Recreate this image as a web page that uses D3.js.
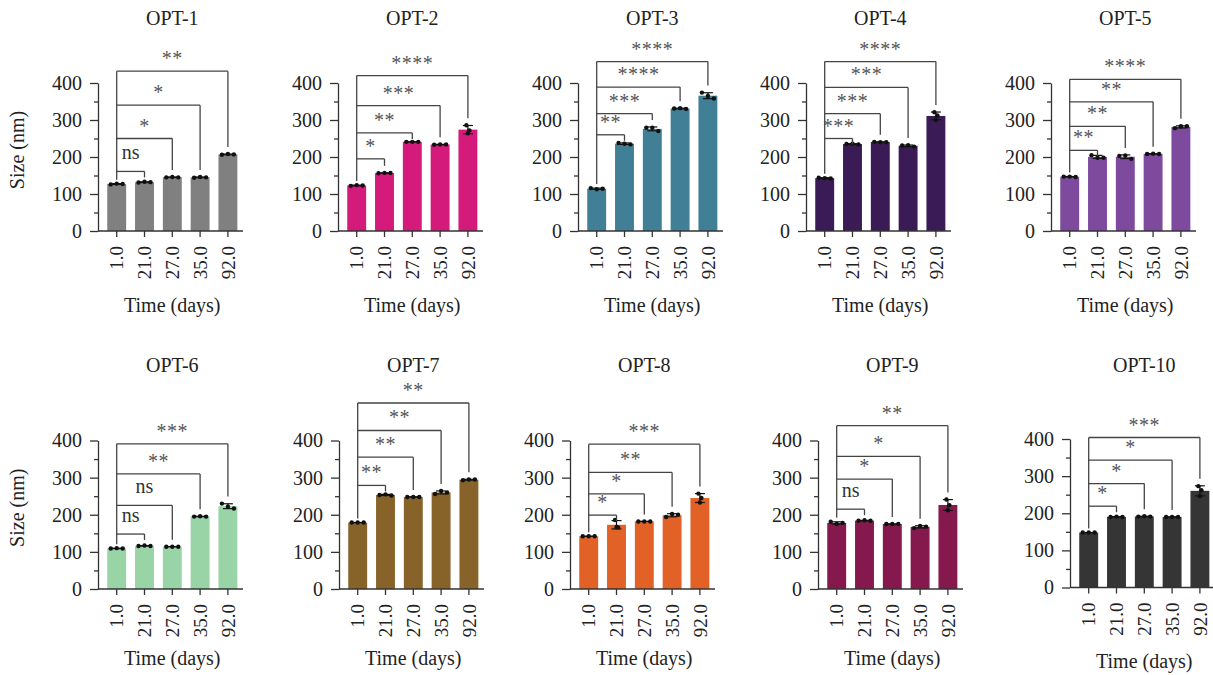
<!DOCTYPE html>
<html><head><meta charset="utf-8">
<script src="https://cdn.jsdelivr.net/npm/d3@7"></script>
<style>body{margin:0;background:#fff} svg{display:block}</style>
</head><body>
<svg id="chart" width="1213" height="675"></svg>
<script>
// ---------- data ----------
const categories = ["1.0","21.0","27.0","35.0","92.0"];
const titles = ["OPT-1","OPT-2","OPT-3","OPT-4","OPT-5","OPT-6","OPT-7","OPT-8","OPT-9","OPT-10"];
const colors = ["#808080","#d41a7b","#417f96","#3a1b56","#7d4a9e","#98d4a6","#876329","#e26126","#85184c","#353535"];
const yTicks = [0,100,200,300,400];
const yMinorTicks = [50,150,250,350];
const yAxisTitle = "Size (nm)";
const xAxisTitle = "Time (days)";

// replicate values (3 per time point)
const opt1  = [[126,128,127],[131,133,132],[145,146,145],[144,146,145],[206,208,207]];
const opt2  = [[122,124,123],[156,157,157],[241,241,241],[233,234,234],[286,272,264]];
const opt3  = [[116,113,114],[238,236,234],[279,279,270],[331,332,330],[374,365,358]];
const opt4  = [[144,143,142],[235,236,234],[241,240,240],[231,232,228],[321,312,300]];
const opt5  = [[147,147,146],[205,198,198],[203,204,195],[208,209,208],[278,283,283]];
const opt6  = [[109,110,109],[116,117,116],[114,114,114],[195,196,195],[230,222,217]];
const opt7  = [[179,179,179],[253,255,252],[248,248,248],[256,264,260],[293,295,295]];
const opt8  = [[142,142,142],[186,166,167],[182,182,182],[194,202,200],[257,245,233]];
const opt9  = [[181,175,178],[184,185,184],[175,175,175],[164,170,168],[241,226,212]];
const opt10 = [[148,148,148],[190,191,190],[191,192,191],[190,190,190],[273,262,246]];
const replicates = [opt1,opt2,opt3,opt4,opt5,opt6,opt7,opt8,opt9,opt10];

// significance brackets (vs 1.0 day), level in nm
const bracketLevels = [
  [161,250,340,432],[195,265,339,420],[260,317,389,458],[250,317,388,458],[218,283,349,410],
  [148,225,310,391],[279,355,427,501],[199,256,314,390],[215,296,357,440],[219,280,343,404]
];
const bracketLabels = [
  ["ns","*","*","**"],["*","**","***","****"],["**","***","****","****"],["***","***","***","****"],["**","**","**","****"],
  ["ns","ns","**","***"],["**","**","**","**"],["*","*","**","***"],["ns","*","*","**"],["*","*","*","***"]
];

// ---------- layout ----------
const axisX      = [98,338,578,806,1051, 98,339,570,818,1070];
const axisBottom = [231,231,231,231,231, 589,589,589,589,587.5];
const axisTop    = [83,83,83,83,83, 440.5,440.5,440.5,440.5,439];
const titleY     = [25,25,25,25,25, 372,372,372,372,372];
const xTitleY    = [312,312,312,312,312, 665,665,665,665,668];
const FONT = "'Liberation Serif','Times New Roman',serif";

const svg = d3.select("#chart");

replicates.forEach((pts, i) => {
  const g = svg.append("g");
  const y = d3.scaleLinear().domain([0,400]).range([axisBottom[i], axisTop[i]]);
  const x = d3.scaleBand().domain(categories)
      .range([axisX[i]+4.8, axisX[i]+143.8]).paddingInner(0.32).paddingOuter(0.16);
  const bw = x.bandwidth();
  const cx = c => x(c) + bw/2;

  const stats = pts.map((p, j) => {
    const m = d3.mean(p), sd = d3.deviation(p);
    return {cat: categories[j], mean: m, sd: sd, pts: p, top: Math.max(d3.max(p), m + sd)};
  });

  // bars
  g.selectAll("rect.bar").data(stats).join("rect")
    .attr("x", d => x(d.cat)).attr("width", bw)
    .attr("y", d => y(d.mean)).attr("height", d => y(0) - y(d.mean))
    .attr("fill", colors[i]);

  // error bars
  stats.forEach(d => {
    const eb = g.append("g").attr("stroke","#111").attr("stroke-width",1.2);
    const c = cx(d.cat);
    eb.append("line").attr("x1",c).attr("x2",c).attr("y1",y(d.mean-d.sd)).attr("y2",y(d.mean+d.sd));
    eb.append("line").attr("x1",c-5).attr("x2",c+5).attr("y1",y(d.mean+d.sd)).attr("y2",y(d.mean+d.sd));
    eb.append("line").attr("x1",c-5).attr("x2",c+5).attr("y1",y(d.mean-d.sd)).attr("y2",y(d.mean-d.sd));
    // dots
    const spreadPx = y(d3.min(d.pts)) - y(d3.max(d.pts));
    const offs = spreadPx < 6 ? [-6,0,6] : [-1.5,1.5,0];
    g.selectAll(null).data(d.pts).join("circle")
      .attr("cx", (v,k) => c + offs[k]).attr("cy", v => y(v)).attr("r", 2.2).attr("fill","#111");
  });

  // y axis
  const ya = g.append("g").attr("transform",`translate(${axisX[i]},0)`)
    .call(d3.axisLeft(y).tickValues(yTicks).tickSize(8).tickPadding(8).tickSizeOuter(0));
  const ym = g.append("g").attr("transform",`translate(${axisX[i]},0)`)
    .call(d3.axisLeft(y).tickValues(yMinorTicks).tickSize(4).tickFormat(""));
  ym.select(".domain").remove();
  [ya, ym].forEach(a => {
    a.selectAll("line,path").attr("stroke","#333").attr("stroke-width",1.3);
  });
  ya.selectAll("text").attr("font-family",FONT).attr("font-size",20).attr("fill","#222");

  // x axis
  const xa = g.append("g").attr("transform",`translate(0,${axisBottom[i]})`)
    .call(d3.axisBottom(x).tickSize(6).tickSizeOuter(0));
  xa.select(".domain").remove();
  xa.append("line").attr("x1", axisX[i]).attr("x2", axisX[i]+145).attr("y1",0).attr("y2",0);
  xa.selectAll("line").attr("stroke","#333").attr("stroke-width",1.3);
  xa.selectAll(".tick text")
    .attr("transform","rotate(-90)").attr("x",-15).attr("y",0).attr("dy","0.35em")
    .attr("text-anchor","end").attr("font-family",FONT).attr("font-size",19).attr("fill","#222");

  // brackets
  const bg = g.append("g").attr("stroke","#444").attr("stroke-width",1.3).attr("fill","none");
  const c0 = cx(categories[0]);
  const topLevel = d3.max(bracketLevels[i]);
  bg.append("line").attr("x1",c0).attr("x2",c0).attr("y1",y(topLevel)).attr("y2",y(stats[0].top)-4);
  bracketLevels[i].forEach((lv, k) => {
    const t = stats[k+1];
    const ct = cx(t.cat);
    const by = y(lv);
    const yEnd = Math.max(by + 6, y(t.top) - 7);
    bg.append("line").attr("x1",c0).attr("x2",ct).attr("y1",by).attr("y2",by);
    bg.append("line").attr("x1",ct).attr("x2",ct).attr("y1",by).attr("y2",yEnd);
    const lab = bracketLabels[i][k];
    const isNs = lab === "ns";
    g.append("text").attr("x",(c0+ct)/2).attr("y", by - (isNs ? 12 : 6))
      .attr("text-anchor","middle").attr("font-family",FONT)
      .attr("font-size", isNs ? 20 : 20).attr("letter-spacing", isNs ? 0 : 0.5)
      .attr("fill", isNs ? "#333" : "#555").text(lab);
  });

  const midX = (cx(categories[0]) + cx(categories[categories.length-1]))/2;
  // title
  g.append("text").attr("x",midX).attr("y",titleY[i]).attr("text-anchor","middle")
    .attr("font-family",FONT).attr("font-size",20).attr("fill","#222").text(titles[i]);
  // x axis title
  g.append("text").attr("x",midX).attr("y",xTitleY[i]).attr("text-anchor","middle")
    .attr("font-family",FONT).attr("font-size",20).attr("fill","#222").text(xAxisTitle);
  // y axis title on first column
  if (i % 5 === 0) {
    const ym2 = (axisBottom[i] + axisTop[i]) / 2 - 7;
    g.append("text").attr("transform",`translate(17,${ym2}) rotate(-90)`)
      .attr("text-anchor","middle").attr("dy","0.35em")
      .attr("font-family",FONT).attr("font-size",20).attr("fill","#222").text(yAxisTitle);
  }
});
</script>
</body></html>
